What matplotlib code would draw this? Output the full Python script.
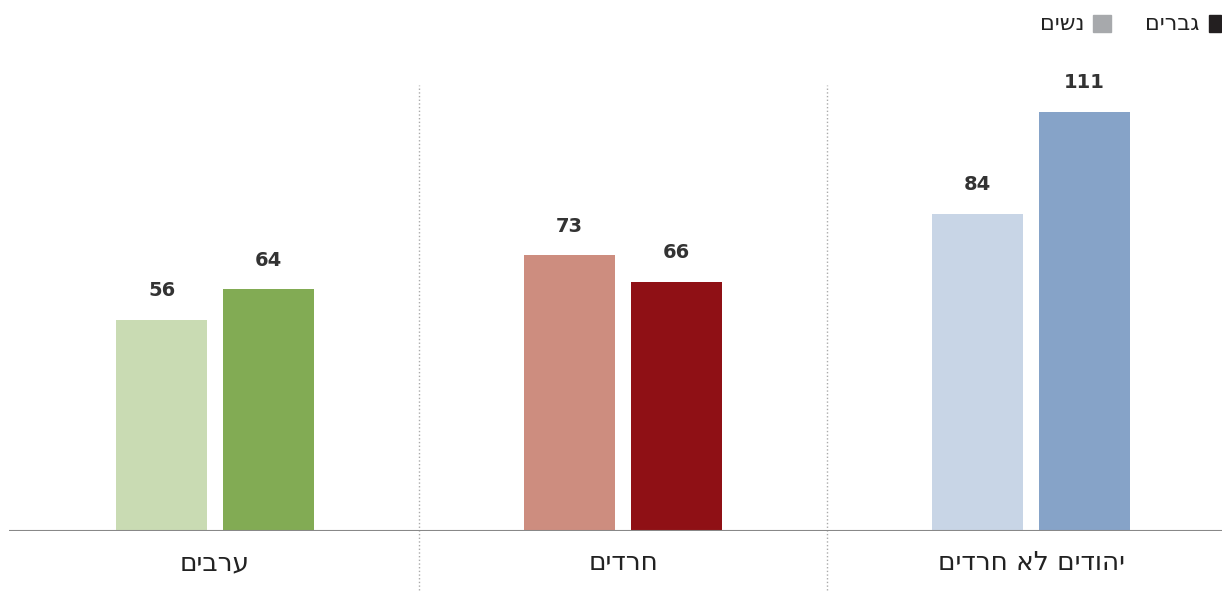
import matplotlib.pyplot as plt
from matplotlib.patches import Rectangle

# data (groups left to right as drawn)
groups = ['ערבים', 'חרדים', 'יהודים לא חרדים']
women = [56, 73, 84]
men = [64, 66, 111]
light_colors = ['#c9dbb3', '#cd8d7f', '#c8d5e6']
dark_colors = ['#82ab54', '#8f1015', '#86a3c8']
legend_labels = ['גברים', 'נשים']
legend_colors = ['#231f20', '#a7a9ac']


def heb(s):
    # matplotlib has no bidi, so flip hebrew for display
    return s[::-1]


W, H = 1222, 595
fig = plt.figure(figsize=(W / 100, H / 100), dpi=100)
ax = fig.add_axes([9 / W, 64 / H, 1213 / W, 446 / H])

x = list(range(len(groups)))
w = 0.223
off = 0.131
ax.bar([i - off for i in x], women, width=w, color=light_colors, zorder=2)
ax.bar([i + off for i in x], men, width=w, color=dark_colors, zorder=2)

ax.set_xlim(-0.505, 2.468)
ax.set_ylim(0, 118.1)

for i in x:
    ax.annotate(str(women[i]), (i - off, women[i]), xytext=(0, 21), textcoords='offset points',
                ha='center', va='center', fontsize=14, fontweight='bold', color='#333333')
    ax.annotate(str(men[i]), (i + off, men[i]), xytext=(0, 21), textcoords='offset points',
                ha='center', va='center', fontsize=14, fontweight='bold', color='#333333')
    ax.annotate(heb(groups[i]), (i, 0), xytext=(0, -23), textcoords='offset points',
                ha='center', va='center', fontsize=19, color='#222222')

# dotted dividers between groups
for d in [0.5, 1.5]:
    ax.plot([d, d], [-15.6, 118.1], color='#aaaaaa', linestyle=':', linewidth=1, clip_on=False)

ax.axhline(0, color='#888888', linewidth=1.5, zorder=3)
for spine in ax.spines.values():
    spine.set_visible(False)
ax.set_xticks([])
ax.set_yticks([])

# legend drawn by hand, right to left
sq_right = [1221, 1111]
sq_w = [12, 18]
txt_right = [1199, 1085]
for lab, col, sr, sw, tr in zip(legend_labels, legend_colors, sq_right, sq_w, txt_right):
    fig.patches.append(Rectangle(((sr - sw) / W, 1 - 32 / H), sw / W, 17 / H,
                                 transform=fig.transFigure, color=col))
    fig.text(tr / W, 1 - 24 / H, heb(lab), ha='right', va='center', fontsize=16, color='#222222')

fig.savefig('out.png', dpi=100)
